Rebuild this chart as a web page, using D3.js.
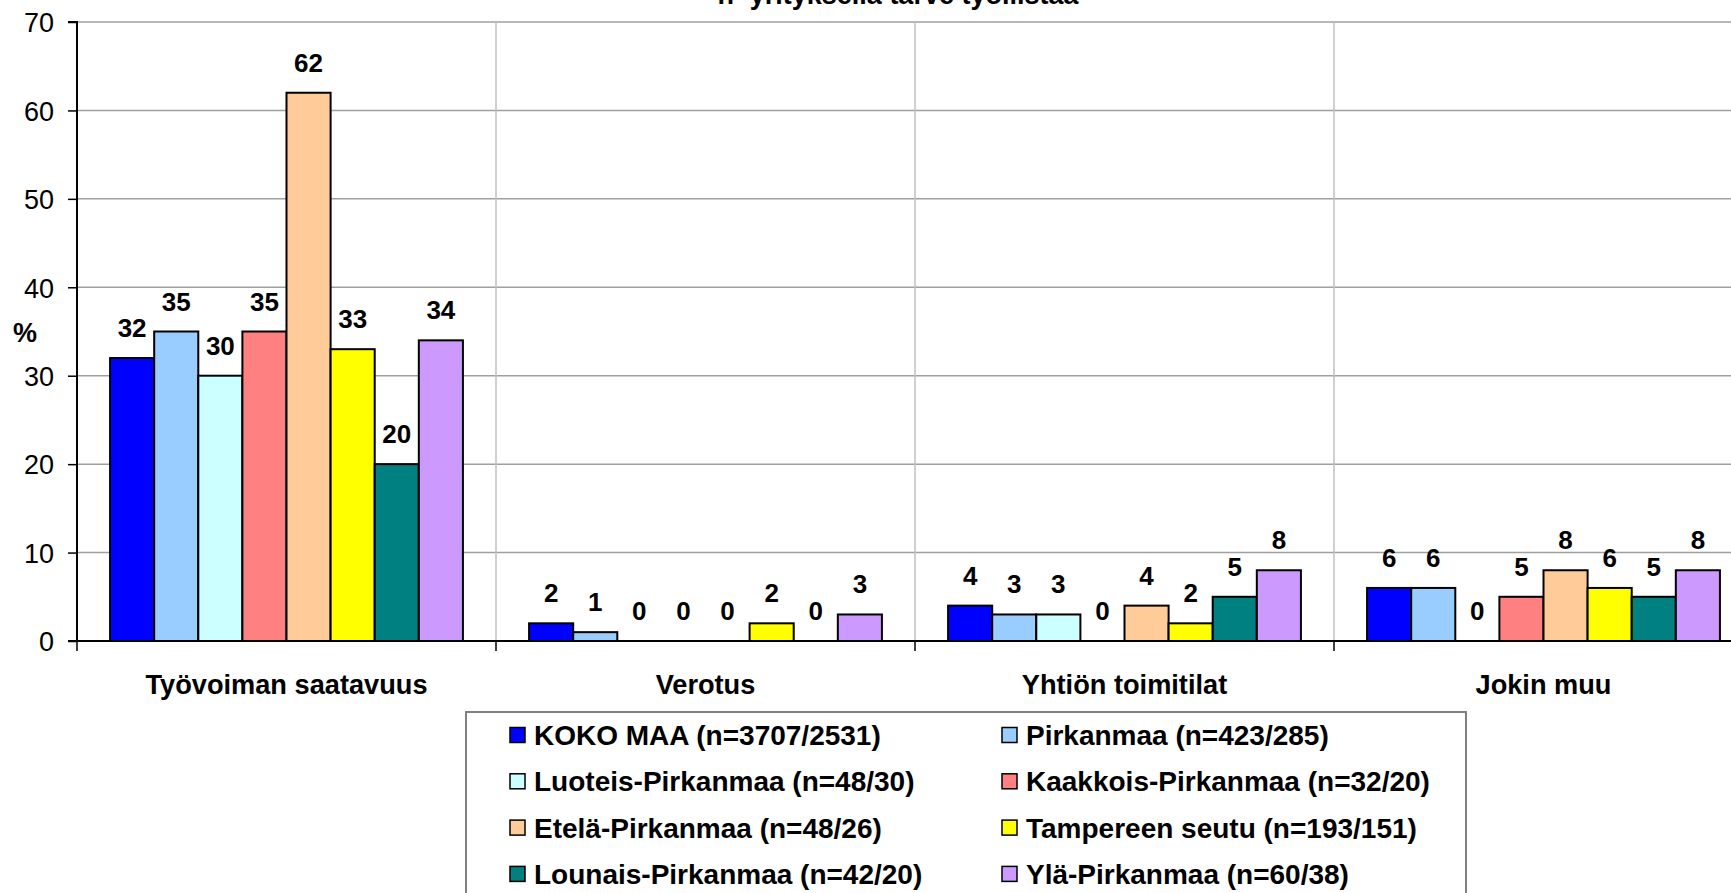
<!DOCTYPE html>
<html><head><meta charset="utf-8">
<script src="https://cdn.jsdelivr.net/npm/d3@7"></script>
<style>
html,body{margin:0;padding:0;background:#fff;overflow:hidden;}
text{font-family:"Liberation Sans",Arial,sans-serif;}
</style></head>
<body>
<svg id="chart" width="1731" height="893"></svg>
<script>
const title = "n=yrityksellä tarve työllistää";
const categories = ["Työvoiman saatavuus","Verotus","Yhtiön toimitilat","Jokin muu"];
const seriesNames = ["KOKO MAA (n=3707/2531)","Pirkanmaa (n=423/285)","Luoteis-Pirkanmaa (n=48/30)","Kaakkois-Pirkanmaa (n=32/20)","Etelä-Pirkanmaa (n=48/26)","Tampereen seutu (n=193/151)","Lounais-Pirkanmaa (n=42/20)","Ylä-Pirkanmaa (n=60/38)"];
const seriesColors = ["#0000FF","#99CCFF","#CCFFFF","#FF8080","#FFCC99","#FFFF00","#008080","#CC99FF"];
const kokoMaa   = [32,2,4,6];
const pirkanmaa = [35,1,3,6];
const luoteis   = [30,0,3,0];
const kaakkois  = [35,0,0,5];
const etela     = [62,0,4,8];
const tampere   = [33,2,2,6];
const lounais   = [20,0,5,5];
const yla       = [34,3,8,8];
const seriesValues = [kokoMaa,pirkanmaa,luoteis,kaakkois,etela,tampere,lounais,yla];
const yTicks = [0,10,20,30,40,50,60,70];

const svg = d3.select("#chart");
const mLeft = 77, mTop = 22, mBottom = 641, catW = 419;
const mRight = mLeft + catW*categories.length;

const x0 = d3.scaleBand().domain(categories).range([mLeft,mRight]).paddingInner(0).paddingOuter(0);
const x1 = d3.scaleBand().domain(d3.range(seriesNames.length)).range([0,catW]).paddingOuter(33/44).paddingInner(0);
const y = d3.scaleLinear().domain([0,70]).range([mBottom,mTop]);

// horizontal grid
svg.append("g").selectAll("line").data(yTicks.filter(t=>t>0)).join("line")
  .attr("x1",mLeft).attr("x2",mRight).attr("y1",d=>y(d)).attr("y2",d=>y(d))
  .attr("stroke","#a0a0a0").attr("stroke-width",1.5);
// vertical grid
svg.append("g").selectAll("line").data(d3.range(1,categories.length+1)).join("line")
  .attr("x1",i=>mLeft+catW*i).attr("x2",i=>mLeft+catW*i)
  .attr("y1",mTop).attr("y2",mBottom).attr("stroke","#c0c0c0").attr("stroke-width",1.5);

// bars
const groups = svg.append("g").selectAll("g").data(categories).join("g")
  .attr("transform",d=>`translate(${x0(d)},0)`);
groups.each(function(cat,ci){
  const g = d3.select(this);
  const data = seriesValues.map((vals,si)=>({si,v:vals[ci]}));
  g.selectAll("rect").data(data.filter(d=>d.v>0)).join("rect")
    .attr("x",d=>x1(d.si)).attr("width",x1.bandwidth())
    .attr("y",d=>y(d.v)).attr("height",d=>y(0)-y(d.v))
    .attr("fill",d=>seriesColors[d.si]).attr("stroke","#000").attr("stroke-width",2);
  g.selectAll("text").data(data).join("text")
    .attr("x",d=>x1(d.si)+x1.bandwidth()/2).attr("y",d=>y(d.v)-21)
    .attr("text-anchor","middle").attr("font-size",26).attr("font-weight","bold")
    .text(d=>d.v);
});

// y axis
const yAxis = d3.axisLeft(y).tickValues(yTicks).tickSize(9).tickPadding(14);
const ya = svg.append("g").attr("transform",`translate(${mLeft},0)`).call(yAxis);
ya.select(".domain").attr("stroke","#000").attr("stroke-width",2).attr("d",`M-9,${mTop}H0V${mBottom}H-9`);
ya.selectAll(".tick line").attr("stroke","#000").attr("stroke-width",1.5);
ya.selectAll(".tick text").attr("font-size",27).attr("fill","#000").attr("dy","0.36em")
  .style("font-family","'Liberation Sans',Arial,sans-serif");

// x axis
const xa = svg.append("g").attr("transform",`translate(0,${mBottom})`);
xa.append("line").attr("x1",mLeft).attr("x2",1741).attr("y1",0).attr("y2",0).attr("stroke","#000").attr("stroke-width",2);
xa.selectAll("line.tk").data(d3.range(categories.length+1)).join("line").attr("class","tk")
  .attr("x1",i=>mLeft+catW*i).attr("x2",i=>mLeft+catW*i).attr("y1",0).attr("y2",10)
  .attr("stroke","#000").attr("stroke-width",1.5);
xa.selectAll("text").data(categories).join("text")
  .attr("x",d=>x0(d)+catW/2).attr("y",694-mBottom)
  .attr("text-anchor","middle").attr("font-size",27.2).attr("font-weight","bold").text(d=>d);

// % label
svg.append("text").attr("x",25).attr("y",342).attr("text-anchor","middle")
  .attr("font-size",27).attr("font-weight","bold").text("%");

// title
svg.append("text").attr("x",898).attr("y",4).attr("text-anchor","middle")
  .attr("font-size",27).attr("font-weight","bold").text(title);

// legend
const lg = svg.append("g");
lg.append("rect").attr("x",466).attr("y",712).attr("width",1000).attr("height",250)
  .attr("fill","#fff").attr("stroke","#808080").attr("stroke-width",2);
const colX = [510,1002];
const items = lg.selectAll("g.item").data(seriesNames).join("g").attr("class","item")
  .attr("transform",(d,i)=>`translate(${colX[i%2]},${735+Math.floor(i/2)*46.3})`);
items.append("rect").attr("x",0).attr("y",-7.5).attr("width",15).attr("height",15)
  .attr("fill",(d,i)=>seriesColors[i]).attr("stroke","#000").attr("stroke-width",1.5);
items.append("text").attr("x",24).attr("y",0).attr("dy","0.36em")
  .attr("font-size",28).attr("font-weight","bold").text(d=>d);
</script>
</body></html>
